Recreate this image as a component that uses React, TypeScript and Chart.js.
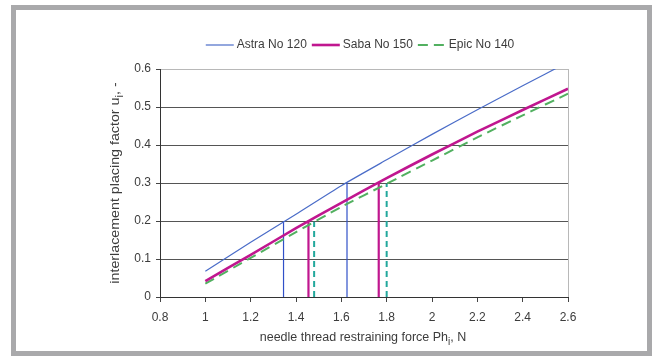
import React, { useEffect, useRef } from "react";
import { Chart, registerables } from "chart.js";

Chart.register(...registerables);

// ---- data ----
const forceX = [1.0, 1.2, 1.4, 1.6, 1.8, 2.0, 2.2, 2.4, 2.6];
const astraY = [0.068, 0.144, 0.218, 0.293, 0.361, 0.428, 0.493, 0.556, 0.618];
const sabaY = [0.042, 0.111, 0.181, 0.248, 0.313, 0.375, 0.435, 0.492, 0.548];
const epicY = [0.035, 0.103, 0.171, 0.237, 0.298, 0.359, 0.42, 0.478, 0.535];

const astraMarkX = [1.345, 1.625];
const astraMarkY = [0.2, 0.3];
const sabaMarkX = [1.455, 1.765];
const sabaMarkY = [0.2, 0.302];
const epicMarkX = [1.48, 1.8];
const epicMarkY = [0.198, 0.298];

const seriesLabels = ["Astra No 120", "Saba No 150", "Epic No 140"];
const xTicks = [0.8, 1.0, 1.2, 1.4, 1.6, 1.8, 2.0, 2.2, 2.4, 2.6];
const yTicks = [0, 0.1, 0.2, 0.3, 0.4, 0.5, 0.6];

const FONT = '"Liberation Sans", Arial, sans-serif';
const TEXT = "#3c3c3c";

const fmt = (v: number) => String(Math.round(v * 10) / 10);

const legendPlugin = {
  id: "customLegend",
  afterDraw(chart: any) {
    const ctx = chart.ctx;
    const ds = chart.data.datasets.slice(0, 3);
    ctx.save();
    ctx.font = `12px ${FONT}`;
    const lineLen = 28, gap = 3, spacing = 5;
    const widths = ds.map((d: any) => lineLen + gap + ctx.measureText(d.label).width);
    const total = widths.reduce((a: number, b: number) => a + b, 0) + spacing * (ds.length - 1);
    const ca = chart.chartArea;
    let x = (ca.left + ca.right) / 2 - 4 - total / 2;
    const y = 45;
    ds.forEach((d: any, i: number) => {
      ctx.beginPath();
      ctx.strokeStyle = d.borderColor;
      ctx.lineWidth = d.borderWidth;
      ctx.setLineDash(d.borderDash || []);
      ctx.moveTo(x, y);
      ctx.lineTo(x + lineLen, y);
      ctx.stroke();
      ctx.setLineDash([]);
      ctx.fillStyle = TEXT;
      ctx.textBaseline = "middle";
      ctx.textAlign = "left";
      ctx.fillText(d.label, x + lineLen + gap, y);
      x += widths[i] + spacing;
    });
    ctx.restore();
  },
};

function drawSubText(ctx: any, parts: [string, boolean][], cx: number, cy: number) {
  const mainFont = `12.5px ${FONT}`;
  const subFont = `10px ${FONT}`;
  let total = 0;
  parts.forEach(([t, sub]) => {
    ctx.font = sub ? subFont : mainFont;
    total += ctx.measureText(t).width;
  });
  let x = cx - total / 2;
  parts.forEach(([t, sub]) => {
    ctx.font = sub ? subFont : mainFont;
    ctx.fillText(t, x, cy + (sub ? 4 : 0));
    x += ctx.measureText(t).width;
  });
}

const titlesPlugin = {
  id: "axisTitles",
  afterDraw(chart: any) {
    const ctx = chart.ctx;
    const ca = chart.chartArea;
    ctx.save();
    ctx.fillStyle = TEXT;
    ctx.textBaseline = "middle";
    ctx.textAlign = "left";
    drawSubText(
      ctx,
      [["needle thread restraining force Ph", false], ["i", true], [", N", false]],
      (ca.left + ca.right) / 2 - 1,
      338
    );
    ctx.translate(116, (ca.top + ca.bottom) / 2);
    ctx.rotate(-Math.PI / 2);
    ctx.scale(1.14, 1);
    drawSubText(
      ctx,
      [["interlacement placing factor u", false], ["i", true], [", -", false]],
      0,
      0
    );
    ctx.restore();
  },
};

function markerSets(xs: number[], ys: number[], color: string, width: number, dash: number[]) {
  return xs.map((x, i) => ({
    label: "",
    data: [
      { x, y: 0 },
      { x, y: ys[i] },
    ],
    borderColor: color,
    borderWidth: width,
    borderDash: dash,
    pointRadius: 0,
    tension: 0,
  }));
}

export default function App() {
  const ref = useRef<HTMLCanvasElement>(null);
  useEffect(() => {
    if (!ref.current) return;
    Chart.defaults.font.family = FONT;
    const chart = new Chart(ref.current, {
      type: "line",
      data: {
        datasets: [
          {
            label: seriesLabels[0],
            data: forceX.map((x, i) => ({ x, y: astraY[i] })),
            borderColor: "#4a6cc8",
            borderWidth: 1.2,
            borderDash: [],
            pointRadius: 0,
            tension: 0.2,
          },
          {
            label: seriesLabels[1],
            data: forceX.map((x, i) => ({ x, y: sabaY[i] })),
            borderColor: "#c0168f",
            borderWidth: 2.6,
            borderDash: [],
            pointRadius: 0,
            tension: 0.2,
          },
          {
            label: seriesLabels[2],
            data: forceX.map((x, i) => ({ x, y: epicY[i] })),
            borderColor: "#52b060",
            borderWidth: 2,
            borderDash: [10, 6],
            pointRadius: 0,
            tension: 0.2,
          },
          ...markerSets(astraMarkX, astraMarkY, "#3050c8", 1.2, []),
          ...markerSets(sabaMarkX, sabaMarkY, "#c0168f", 2.2, []),
          ...markerSets(epicMarkX, epicMarkY, "#22a89c", 2, [6, 4]),
        ] as any,
      },
      options: {
        animation: false,
        responsive: false,
        devicePixelRatio: 1,
        layout: { padding: { left: 120, right: 84, top: 69, bottom: 29 } },
        plugins: { legend: { display: false }, tooltip: { enabled: false } },
        scales: {
          x: {
            type: "linear",
            min: 0.8,
            max: 2.6,
            afterBuildTicks: (s: any) => {
              s.ticks = xTicks.map((v) => ({ value: v }));
            },
            afterFit: (s: any) => {
              s.height = 30;
            },
            ticks: {
              callback: (v: any) => fmt(Number(v)),
              font: { size: 12, family: FONT },
              color: TEXT,
              padding: 8,
              maxRotation: 0,
              autoSkip: false,
            },
            grid: {
              color: (c: any) =>
                c.tick && Math.abs(c.tick.value - 2.6) < 1e-6 ? "#b8b8b8" : "rgba(0,0,0,0)",
              tickColor: "#444",
              tickLength: 5,
              lineWidth: 1,
            },
            border: { color: "#333", width: 1 },
          },
          y: {
            type: "linear",
            min: 0,
            max: 0.6,
            afterBuildTicks: (s: any) => {
              s.ticks = yTicks.map((v) => ({ value: v }));
            },
            afterFit: (s: any) => {
              s.width = 40;
            },
            ticks: {
              callback: (v: any) => fmt(Number(v)),
              font: { size: 12, family: FONT },
              color: TEXT,
              padding: 5,
            },
            grid: {
              color: (c: any) =>
                c.tick && Math.abs(c.tick.value - 0.6) < 1e-6 ? "#b8b8b8" : "#555555",
              tickColor: "#444",
              tickLength: 4,
              lineWidth: 1,
            },
            border: { color: "#333", width: 1 },
          },
        },
      } as any,
      plugins: [legendPlugin, titlesPlugin],
    });
    return () => chart.destroy();
  }, []);

  return (
    <div
      style={{
        position: "fixed",
        left: 0,
        top: 0,
        width: 652,
        height: 356,
        background: "#fff",
      }}
    >
      <canvas ref={ref} width={652} height={356} style={{ position: "absolute", left: 0, top: 0 }} />
      <div
        style={{
          position: "absolute",
          left: 11,
          top: 5,
          width: 641,
          height: 351,
          boxSizing: "border-box",
          border: "5px solid #a9a9ab",
          pointerEvents: "none",
        }}
      />
    </div>
  );
}
